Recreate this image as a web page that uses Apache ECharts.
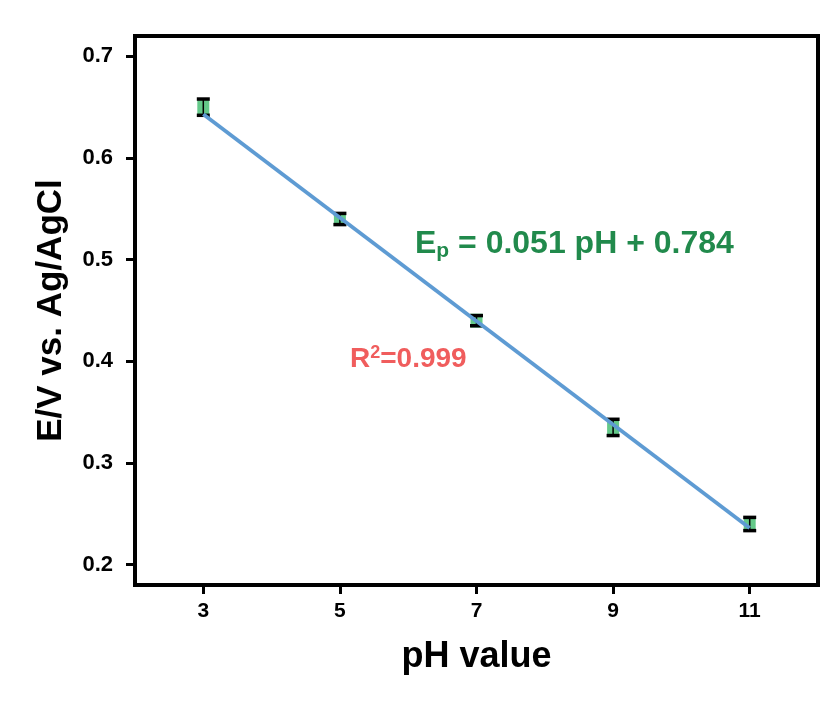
<!DOCTYPE html>
<html>
<head>
<meta charset="utf-8">
<script src="https://cdn.jsdelivr.net/npm/echarts@6/dist/echarts.min.js"></script>
<style>
html,body{margin:0;padding:0;background:#fff;}
#chart{width:822px;height:704px;}
</style>
</head>
<body>
<div id="chart"></div>
<script>
// ---- data ----
const pH = [3, 5, 7, 9, 11];
const potential = [0.650, 0.540, 0.440, 0.335, 0.240];
const errors = [0.008, 0.0055, 0.005, 0.008, 0.0065];
const fitX = [3, 11];
const fitY = [0.643, 0.236];
const xTicks = [3, 5, 7, 9, 11];
const yTicks = [0.2, 0.3, 0.4, 0.5, 0.6, 0.7];

const FONT = '"Liberation Sans", Arial, sans-serif';
const chart = echarts.init(document.getElementById('chart'));

const pointData = pH.map((x, i) => [x, potential[i]]);
const errData = pH.map((x, i) => [x, potential[i] - errors[i], potential[i] + errors[i]]);
const fitData = fitX.map((x, i) => [x, fitY[i]]);

chart.setOption({
  backgroundColor: '#fff',
  animation: false,
  grid: { left: 135, top: 36, right: 4, bottom: 119, show: true, borderColor: '#000', borderWidth: 4, backgroundColor: 'transparent' },
  xAxis: {
    type: 'value', min: 2, max: 12,
    name: 'pH value', nameLocation: 'middle', nameGap: 54,
    nameTextStyle: { fontFamily: FONT, fontWeight: 'bold', fontSize: 36, color: '#000' },
    axisLine: { show: true, lineStyle: { color: '#000', width: 4 } },
    axisTick: { show: true, inside: false, length: 9, lineStyle: { color: '#000', width: 3 }, customValues: xTicks },
    axisLabel: { margin: 16, fontFamily: FONT, fontWeight: 'bold', fontSize: 21, color: '#000', customValues: xTicks },
    splitLine: { show: false }
  },
  yAxis: {
    type: 'value', min: 0.18, max: 0.72,
    name: 'E/V vs. Ag/AgCl', nameLocation: 'middle', nameGap: 66,
    nameTextStyle: { fontFamily: FONT, fontWeight: 'bold', fontSize: 35, color: '#000' },
    axisLine: { show: true, lineStyle: { color: '#000', width: 4 } },
    axisTick: { show: true, inside: false, length: 9, lineStyle: { color: '#000', width: 3 }, customValues: yTicks },
    axisLabel: { margin: 22, fontFamily: FONT, fontWeight: 'bold', fontSize: 22, color: '#000', customValues: yTicks,
      formatter: v => v.toFixed(1) },
    splitLine: { show: false }
  },
  series: [
    {
      type: 'scatter', data: pointData, symbol: 'rect', symbolSize: [12, 14],
      itemStyle: { color: '#3dbb6c' }, z: 2
    },
    {
      type: 'custom', data: errData, z: 3,
      renderItem: function (params, api) {
        const x = api.value(0);
        const lo = api.coord([x, api.value(1)]);
        const hi = api.coord([x, api.value(2)]);
        const hw = 6.5;
        const style = { stroke: '#000', lineWidth: 3.5 };
        return {
          type: 'group',
          children: [
            { type: 'line', shape: { x1: lo[0], y1: lo[1], x2: hi[0], y2: hi[1] }, style: { stroke: '#000', lineWidth: 1.5 } },
            { type: 'line', shape: { x1: lo[0] - hw, y1: lo[1], x2: lo[0] + hw, y2: lo[1] }, style: style },
            { type: 'line', shape: { x1: hi[0] - hw, y1: hi[1], x2: hi[0] + hw, y2: hi[1] }, style: style }
          ]
        };
      }
    },
    {
      type: 'line', data: fitData, symbol: 'none', z: 4,
      lineStyle: { color: '#5e9bd3', width: 3.8 }
    }
  ],
  graphic: [
    {
      type: 'text', left: 415, top: 228, z: 10,
      style: {
        text: '{e|E}{sub|p}{n| = 0.051 pH + 0.784}',
        rich: {
          e: { fontFamily: FONT, fontWeight: 'bold', fontSize: 32, fill: '#218a4c' },
          sub: { fontFamily: FONT, fontWeight: 'bold', fontSize: 21, fill: '#218a4c', padding: [15, 0, 0, 0] },
          n: { fontFamily: FONT, fontWeight: 'bold', fontSize: 32, fill: '#218a4c' }
        }
      }
    },
    {
      type: 'text', left: 350, top: 344, z: 10,
      style: {
        text: '{r|R}{sup|2}{n|=0.999}',
        rich: {
          r: { fontFamily: FONT, fontWeight: 'bold', fontSize: 28, fill: '#f05d5d' },
          sup: { fontFamily: FONT, fontWeight: 'bold', fontSize: 18, fill: '#f05d5d', padding: [0, 0, 12, 0] },
          n: { fontFamily: FONT, fontWeight: 'bold', fontSize: 28, fill: '#f05d5d' }
        }
      }
    }
  ]
});
</script>
</body>
</html>
